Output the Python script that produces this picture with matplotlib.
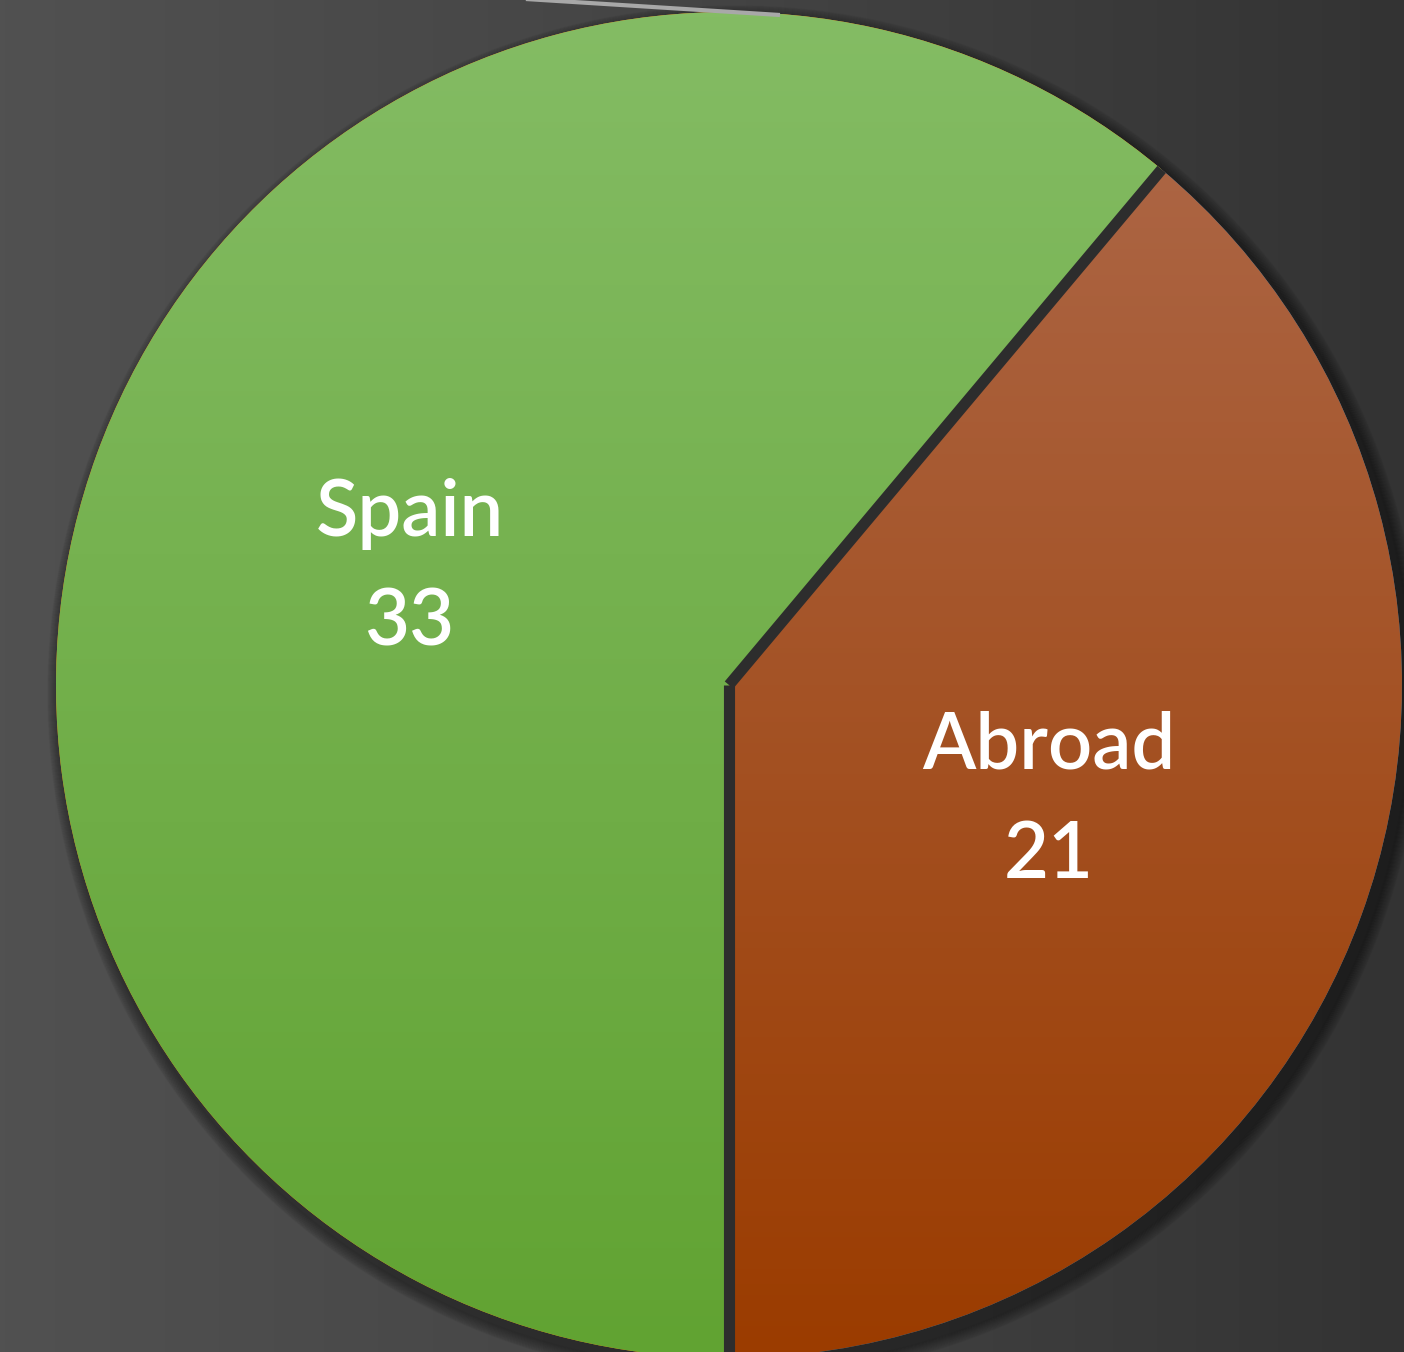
import numpy as np
import matplotlib.pyplot as plt
from matplotlib.colors import LinearSegmentedColormap

labels = ['Abroad', 'Spain']
values = [21, 33]
top_colors = ['#ae6a4c', '#84bc64']
bottom_colors = ['#9b3c00', '#61a332']

W, H = 1404, 1352
cx, cy, r = 729, H - 685, 673

fig = plt.figure(figsize=(W / 100, H / 100), dpi=100)
ax = fig.add_axes([0, 0, 1, 1])

# background: dark grey, lighter on the left
bg = LinearSegmentedColormap.from_list('bg', ['#515151', '#444444', '#333333'])
ax.imshow(np.linspace(0, 1, 256).reshape(1, -1), cmap=bg, aspect='auto',
          extent=[0, W, 0, H], zorder=0)

# soft shadow behind the pie
for i in range(12):
    c = plt.Circle((cx + 6, cy - 8), r + 14 - i, color='black', alpha=0.03, zorder=1)
    ax.add_patch(c)

wedges, _ = ax.pie(values, startangle=-90, counterclock=True, center=(cx, cy),
                   radius=r, frame=True, wedgeprops=dict(linewidth=0))
ax.set_xlim(0, W)
ax.set_ylim(0, H)
ax.axis('off')

grad = np.linspace(0, 1, 256).reshape(-1, 1)
for w, c0, c1 in zip(wedges, top_colors, bottom_colors):
    w.set_zorder(2)
    cm = LinearSegmentedColormap.from_list('g', [c0, c1])
    im = ax.imshow(grad, cmap=cm, aspect='auto',
                   extent=[cx - r, cx + r, cy - r, cy + r], zorder=3, origin='upper')
    im.set_clip_path(w)

# dark separators between the slices (radial edges only)
for w in wedges:
    a = np.deg2rad(w.theta1)
    ax.plot([cx, cx + r * np.cos(a)], [cy, cy + r * np.sin(a)],
            color='#2d2d2d', lw=8, solid_capstyle='butt', solid_joinstyle='miter', zorder=4)

# leader line at the top edge
ax.plot([510, 780], [H + 2, H - 15], color='#a8a8a8', lw=3, solid_capstyle='butt', zorder=5)

# slice labels
for w, lab, v in zip(wedges, labels, values):
    ang = np.deg2rad((w.theta1 + w.theta2) / 2)
    x = cx + 0.505 * r * np.cos(ang)
    y = cy + 0.505 * r * np.sin(ang)
    ax.text(x, y, f'{lab}\n{v}', ha='center', va='center', color='white',
            fontsize=56, family='Lato', fontweight='semibold', linespacing=1.65, zorder=6)

fig.savefig('out.png', dpi=100)
